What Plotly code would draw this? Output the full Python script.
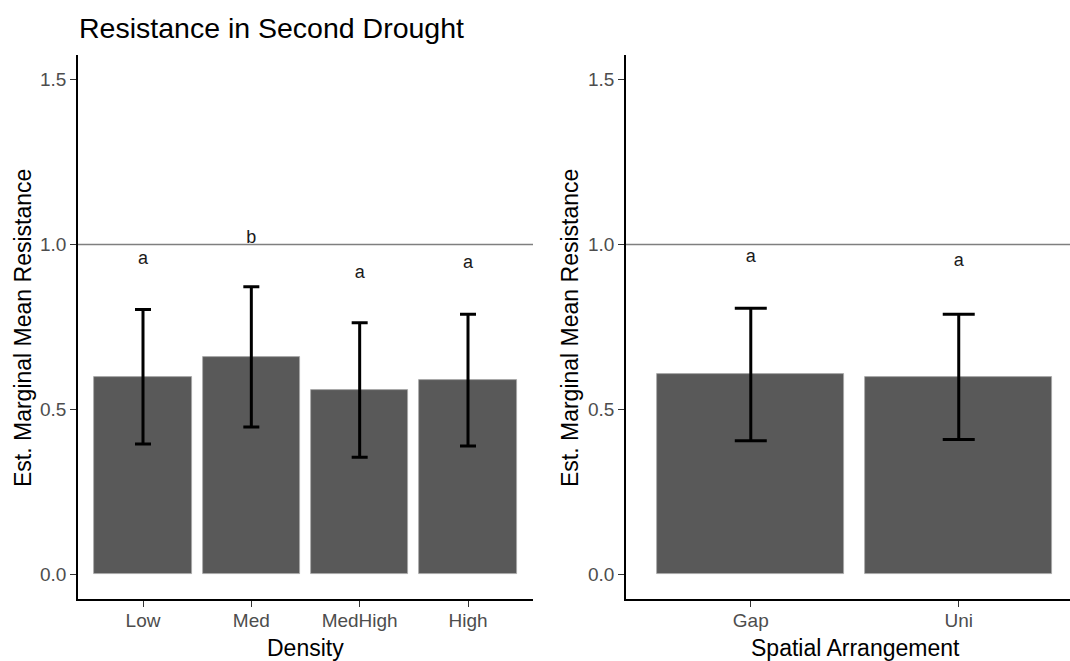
import plotly.graph_objects as go

# ---- data ----
density = ["Low", "Med", "MedHigh", "High"]
density_mean = [0.597, 0.660, 0.560, 0.588]
density_lower = [0.395, 0.447, 0.355, 0.389]
density_upper = [0.803, 0.872, 0.763, 0.789]
density_letters = ["a", "b", "a", "a"]
density_letter_y = [0.954, 1.017, 0.913, 0.943]

spatial = ["Gap", "Uni"]
spatial_mean = [0.607, 0.598]
spatial_lower = [0.405, 0.409]
spatial_upper = [0.807, 0.789]
spatial_letters = ["a", "a"]
spatial_letter_y = [0.960, 0.950]

y_ticks = [0.0, 0.5, 1.0, 1.5]
y_tick_text = ["0.0", "0.5", "1.0", "1.5"]

title = "Resistance in Second Drought"
y_title = "Est. Marginal Mean Resistance"

W, H = 1070, 661
FONT = "Arial, Liberation Sans, sans-serif"
BAR = "#595959"

fig = go.Figure()

def add_panel(cats, mean, lower, upper, letters, letter_y, xa, ya, cap):
    fig.add_trace(go.Bar(
        x=cats, y=mean, width=0.9,
        marker=dict(color=BAR, line=dict(color="#a8a8a8", width=0.8)),
        error_y=dict(type="data", symmetric=False,
                     array=[u - m for u, m in zip(upper, mean)],
                     arrayminus=[m - l for m, l in zip(mean, lower)],
                     color="black", thickness=3, width=cap),
        xaxis=xa, yaxis=ya, showlegend=False, hoverinfo="skip"))
    fig.add_trace(go.Scatter(
        x=cats, y=letter_y, mode="text", text=letters,
        textposition="middle center",
        textfont=dict(family=FONT, size=18, color="#1a1a1a"),
        xaxis=xa, yaxis=ya, showlegend=False, hoverinfo="skip"))

add_panel(density, density_mean, density_lower, density_upper,
          density_letters, density_letter_y, "x", "y", 8)
add_panel(spatial, spatial_mean, spatial_lower, spatial_upper,
          spatial_letters, spatial_letter_y, "x2", "y2", 16)

y0, y1 = 1 - 599 / H, 1 - 55 / H
yrange = [-0.075, 1.575]

common_y = dict(range=yrange, tickvals=y_ticks, ticktext=y_tick_text,
                showline=True, linecolor="black", linewidth=1.5,
                ticks="outside", ticklen=6, tickwidth=1.2, tickcolor="#333333",
                tickfont=dict(family=FONT, size=19, color="#4d4d4d"),
                showgrid=False, zeroline=False, fixedrange=True)
common_x = dict(type="category", showline=True, linecolor="black", linewidth=1.5,
                ticks="outside", ticklen=6, tickwidth=1.2, tickcolor="#333333",
                tickfont=dict(family=FONT, size=19, color="#4d4d4d"),
                ticklabelstandoff=-3,
                showgrid=False, zeroline=False, fixedrange=True)

fig.update_layout(
    width=W, height=H,
    margin=dict(l=0, r=0, t=0, b=0),
    paper_bgcolor="white", plot_bgcolor="white",
    bargap=0,
    xaxis=dict(domain=[78 / W, 533 / W], range=[-0.6, 3.6], anchor="y", **common_x),
    yaxis=dict(domain=[y0, y1], anchor="x", **common_y),
    xaxis2=dict(domain=[626 / W, 1.0], range=[-0.6, 1.535], anchor="y2", **common_x),
    yaxis2=dict(domain=[y0, y1], anchor="x2", **common_y),
    shapes=[
        dict(type="line", xref="x domain", yref="y", x0=0, x1=1, y0=1, y1=1,
             line=dict(color="#7f7f7f", width=1.5), layer="below"),
        dict(type="line", xref="x2 domain", yref="y2", x0=0, x1=1, y0=1, y1=1,
             line=dict(color="#7f7f7f", width=1.5), layer="below"),
    ],
    annotations=[
        dict(text=title, xref="paper", yref="paper", x=77 / W, y=1 - 28 / H,
             xanchor="left", yanchor="middle", showarrow=False,
             font=dict(family=FONT, size=28.5, color="black")),
        dict(text=y_title, xref="paper", yref="paper", x=23 / W, y=1 - 328 / H,
             xanchor="center", yanchor="middle", textangle=-90, showarrow=False,
             font=dict(family=FONT, size=23, color="black")),
        dict(text=y_title, xref="paper", yref="paper", x=570 / W, y=1 - 328 / H,
             xanchor="center", yanchor="middle", textangle=-90, showarrow=False,
             font=dict(family=FONT, size=23, color="black")),
        dict(text="Density", xref="paper", yref="paper", x=305 / W, y=1 - 648 / H,
             xanchor="center", yanchor="middle", showarrow=False,
             font=dict(family=FONT, size=23, color="black")),
        dict(text="Spatial Arrangement", xref="paper", yref="paper", x=855 / W, y=1 - 648 / H,
             xanchor="center", yanchor="middle", showarrow=False,
             font=dict(family=FONT, size=23, color="black")),
    ],
)

fig.write_html("out.html")
